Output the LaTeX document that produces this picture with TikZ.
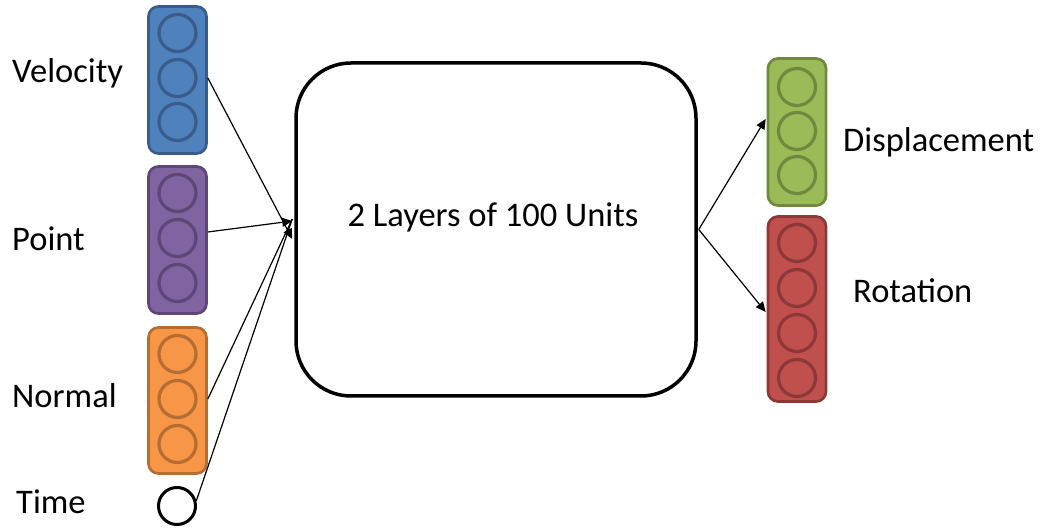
\documentclass[tikz,border=0pt]{standalone}
\usepackage{fontspec}
\setmainfont{Carlito}
\usetikzlibrary{arrows.meta}
\definecolor{bfill}{HTML}{4F81BD}\definecolor{bline}{HTML}{385D8A}
\definecolor{pfill}{HTML}{8064A2}\definecolor{pline}{HTML}{5C4776}
\definecolor{ofill}{HTML}{F79646}\definecolor{oline}{HTML}{B66D31}
\definecolor{gfill}{HTML}{9BBB59}\definecolor{gline}{HTML}{71893F}
\definecolor{rfill}{HTML}{C0504D}\definecolor{rline}{HTML}{8C3836}
\tikzset{
  col/.style={draw, line width=2.7pt, rounded corners=10pt, minimum width=58pt, inner sep=0pt},
  unit/.style={circle, draw, line width=3.2pt, minimum size=37pt, inner sep=0pt},
  lbl/.style={anchor=base west, inner sep=0pt, font=\fontsize{34.5}{38}\selectfont},
  arr/.style={line width=1.2pt, -{Triangle[length=10pt,width=9pt]}},
}
\begin{document}
\begin{tikzpicture}[x=1pt,y=-1pt]
\path[use as bounding box] (0,0) rectangle (1042,529);
% input columns
\node[col, fill=bfill, draw=bline, minimum height=147pt] (vel) at (177.5,80) {};
\foreach \y [count=\i] in {33,78,122} \node[unit, draw=bline] (v\i) at (177.5,\y) {};
\node[col, fill=pfill, draw=pline, minimum height=147pt] (pt) at (177.5,240) {};
\foreach \y [count=\i] in {193,238,283} \node[unit, draw=pline] (p\i) at (177.5,\y) {};
\node[col, fill=ofill, draw=oline, minimum height=146pt] (nor) at (177.5,400.5) {};
\foreach \y [count=\i] in {354,399,444} \node[unit, draw=oline] (n\i) at (177.5,\y) {};
\node[unit, draw=black, fill=white, line width=3pt] (tim) at (177,506) {};
% output columns
\node[col, fill=gfill, draw=gline, minimum height=147pt] (disp) at (797,132) {};
\foreach \y [count=\i] in {87,131,175} \node[unit, draw=gline] (d\i) at (797,\y) {};
\node[col, fill=rfill, draw=rline, minimum height=185pt] (rot) at (797,309) {};
\foreach \y [count=\i] in {243,288,333,378} \node[unit, draw=rline] (r\i) at (797,\y) {};
% central box
\node[draw, line width=3.5pt, rounded corners=55pt, minimum width=400pt, minimum height=333pt, inner sep=0pt] (box) at (496,229.5) {};
\node[inner sep=0pt, font=\fontsize{34.5}{38}\selectfont] (boxt) at (493,217) {2 Layers of 100 Units};
% labels
\node[lbl] (lv) at (12,83) {Velocity};
\node[lbl] (lp) at (12,251) {Point};
\node[lbl] (ln) at (12,407) {Normal};
\node[lbl] (lt) at (16,513) {Time};
\node[lbl] (ld) at (843,152) {Displacement};
\node[lbl] (lr) at (853,303) {Rotation};
% connector points
\coordinate (in1) at ([xshift=-2pt,yshift=-9.5pt]box.west);
\coordinate (in2) at ([xshift=-2pt,yshift=8.5pt]box.west);
\coordinate (in3) at ([xshift=-2pt,yshift=10.5pt]box.west);
\coordinate (out) at ([xshift=1pt]box.east);
\coordinate (o1) at ([xshift=-1pt,yshift=13pt]disp.west);
\coordinate (o2) at ([xshift=-1pt,yshift=-3pt]rot.west);
\draw[arr] ([yshift=2pt]vel.east) -- (in1);
\draw[arr] ([yshift=8pt]pt.east) -- (in2);
\draw[line width=1.2pt] ([yshift=1.5pt]nor.east) -- (in3);
\draw[line width=1.2pt] (tim.15) -- (in3);
\draw[arr] (out) -- (o1);
\draw[arr] (out) -- (o2);
\end{tikzpicture}
\end{document}
